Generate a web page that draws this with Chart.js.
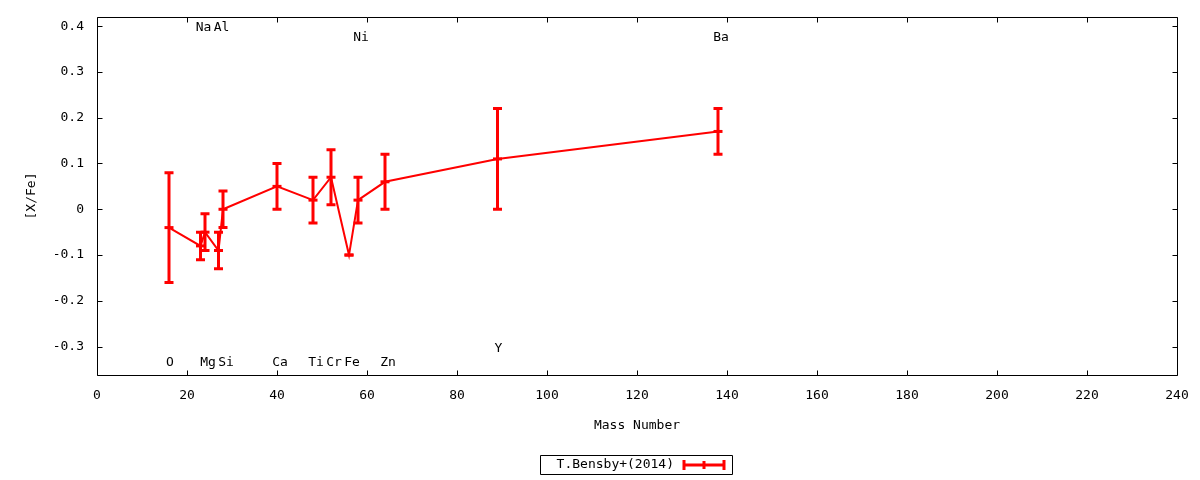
<!DOCTYPE html>
<html><head><meta charset="utf-8">
<script src="https://cdn.jsdelivr.net/npm/chart.js@4"></script>
<style>html,body{margin:0;padding:0;background:#fff}#wrap{width:1200px;height:480px}</style>
</head><body><div id="wrap"><canvas id="c" width="1200" height="480"></canvas></div>
<script>
const elements = ['O','Na','Mg','Al','Si','Ca','Ti','Cr','Fe','Ni','Zn','Y','Ba'];
const massNumbers = [16,23,24,27,28,40,48,52,56,58,64,89,138];
const xfe = [-0.04,-0.08,-0.05,-0.09,0.00,0.05,0.02,0.07,-0.10,0.02,0.06,0.11,0.17];
const xfeErr = [0.12,0.03,0.04,0.04,0.04,0.05,0.05,0.06,0.00,0.05,0.06,0.11,0.05];
const labelY = [-0.336,0.397,-0.336,0.397,-0.336,-0.336,-0.336,-0.336,-0.336,0.376,-0.336,-0.305,0.376];
const xTicks = [0,20,40,60,80,100,120,140,160,180,200,220,240];
const xTickLabels = ['0','20','40','60','80','100','120','140','160','180','200','220','240'];
const yTicks = [-0.3,-0.2,-0.1,0,0.1,0.2,0.3,0.4];
const yTickLabels = ['-0.3','-0.2','-0.1','0','0.1','0.2','0.3','0.4'];
const seriesLabel = 'T.Bensby+(2014)';
const xTitle = 'Mass Number';
const yTitle = '[X/Fe]';

const FONT = 'DejaVu Sans Mono';
const RED = '#ff0000';

const overlay = {
  id: 'overlay',
  afterDatasetsDraw(chart) {
    const ctx = chart.ctx, xs = chart.scales.x, ys = chart.scales.y, a = chart.chartArea;
    ctx.save();
    ctx.beginPath(); ctx.rect(a.left, a.top, a.right - a.left, a.bottom - a.top); ctx.clip();
    ctx.strokeStyle = RED; ctx.lineWidth = 3; ctx.lineCap = 'butt';
    for (let i = 0; i < massNumbers.length; i++) {
      const px = xs.getPixelForValue(massNumbers[i]);
      const y1 = ys.getPixelForValue(xfe[i] - xfeErr[i]);
      const y2 = ys.getPixelForValue(xfe[i] + xfeErr[i]);
      ctx.beginPath();
      ctx.moveTo(px, y1 + 1.5); ctx.lineTo(px, y2 - 1.5);
      ctx.moveTo(px - 4.5, y1); ctx.lineTo(px + 4.5, y1);
      ctx.moveTo(px - 4.5, y2); ctx.lineTo(px + 4.5, y2);
      ctx.stroke();
    }
    ctx.restore();
    // element labels
    ctx.save();
    ctx.fillStyle = '#000'; ctx.font = '13px "' + FONT + '"';
    ctx.textAlign = 'center'; ctx.textBaseline = 'middle';
    for (let i = 0; i < elements.length; i++) {
      const shift = elements[i].length > 1 ? 3 : 1;
      ctx.fillText(elements[i], xs.getPixelForValue(massNumbers[i]) + shift, ys.getPixelForValue(labelY[i]));
    }
    ctx.restore();
  },
  afterDraw(chart) {
    const ctx = chart.ctx, xs = chart.scales.x, ys = chart.scales.y, a = chart.chartArea;
    ctx.save();
    ctx.strokeStyle = '#000'; ctx.lineWidth = 1;
    const L = Math.round(a.left) + 0.5, R = Math.round(a.right) + 0.5, T = Math.round(a.top) + 0.5, B = Math.round(a.bottom) + 0.5;
    ctx.beginPath();
    ctx.rect(L, T, R - L, B - T);
    const tl = 5;
    xTicks.forEach(v => {
      const px = Math.round(xs.getPixelForValue(v)) + 0.5;
      ctx.moveTo(px, B); ctx.lineTo(px, B - tl);
      ctx.moveTo(px, T); ctx.lineTo(px, T + tl);
    });
    yTicks.forEach(v => {
      const py = Math.round(ys.getPixelForValue(v)) + 0.5;
      ctx.moveTo(L, py); ctx.lineTo(L + tl, py);
      ctx.moveTo(R, py); ctx.lineTo(R - tl, py);
    });
    ctx.stroke();
    // legend
    const bx = 540.5, by = 455.5, bw = 192, bh = 19;
    ctx.beginPath(); ctx.rect(bx, by, bw, bh); ctx.stroke();
    ctx.fillStyle = '#000'; ctx.font = '13px "' + FONT + '"';
    ctx.textAlign = 'right'; ctx.textBaseline = 'middle';
    ctx.fillText(seriesLabel, 674, 465);
    ctx.strokeStyle = RED; ctx.lineWidth = 3;
    ctx.beginPath();
    ctx.moveTo(684, 465); ctx.lineTo(725, 465);
    ctx.moveTo(684, 460); ctx.lineTo(684, 470);
    ctx.moveTo(724, 460); ctx.lineTo(724, 470);
    ctx.moveTo(704, 461); ctx.lineTo(704, 469);
    ctx.stroke();
    ctx.restore();
  }
};

new Chart(document.getElementById('c'), {
  type: 'line',
  data: {
    datasets: [{
      label: seriesLabel,
      data: massNumbers.map((m, i) => ({x: m, y: xfe[i]})),
      borderColor: RED, backgroundColor: RED,
      borderWidth: 2,
      pointStyle: 'line', pointRadius: 4.5, pointBorderWidth: 3, pointHoverRadius: 4.5,
      tension: 0
    }]
  },
  options: {
    responsive: false, animation: false, devicePixelRatio: 1,
    layout: {padding: {top: 17, right: 23, left: 0, bottom: 0}},
    plugins: {legend: {display: false}, tooltip: {enabled: false}},
    scales: {
      x: {
        type: 'linear', min: 0, max: 240,
        afterBuildTicks: s => { s.ticks = xTicks.map(v => ({value: v})); },
        afterFit: s => { s.height = 105; s.paddingLeft = 0; s.paddingRight = 0; },
        grid: {display: false, drawTicks: false},
        border: {display: false},
        ticks: {
          padding: 13, color: '#000', maxRotation: 0, autoSkip: false,
          font: {family: FONT, size: 13},
          callback: (v, i) => xTickLabels[i]
        },
        title: {display: true, text: xTitle, color: '#000', font: {family: FONT, size: 13}, padding: {top: 0, bottom: 47}}
      },
      y: {
        type: 'linear', min: -0.362, max: 0.42,
        afterBuildTicks: s => { s.ticks = yTicks.map(v => ({value: v})); },
        afterFit: s => { s.width = 97; s.paddingTop = 0; s.paddingBottom = 0; },
        grid: {display: false, drawTicks: false},
        border: {display: false},
        ticks: {
          padding: 13, color: '#000', autoSkip: false,
          font: {family: FONT, size: 13},
          callback: (v, i) => yTickLabels[i]
        },
        title: {display: true, text: yTitle, color: '#000', font: {family: FONT, size: 13}, padding: {top: 24, bottom: 0}}
      }
    }
  },
  plugins: [overlay]
});
</script>
</body></html>
